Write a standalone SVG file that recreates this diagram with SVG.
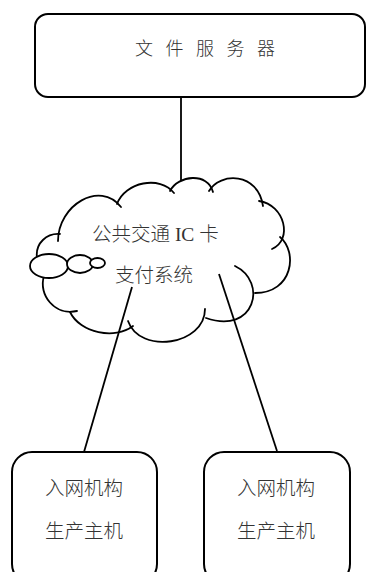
<svg xmlns="http://www.w3.org/2000/svg" width="368" height="572" viewBox="0 0 368 572">
<style>
.box{fill:#fff;stroke:#000;stroke-width:2}
.ln{fill:none;stroke:#000;stroke-width:1.8}
.cl{fill:none;stroke:#000;stroke-width:1.8;stroke-linecap:round}
.bub{fill:#fff;stroke:#000;stroke-width:1.8}
.t{font-family:"Liberation Serif","Noto Sans CJK SC",serif;font-size:19.5px;font-weight:300;fill:#333}
</style>
<rect width="368" height="572" fill="#fff"/>
<g id="connectors">
<line class="ln" x1="181" y1="97" x2="181" y2="181"/>
<line class="ln" x1="132" y1="287" x2="84" y2="452"/>
<line class="ln" x1="219" y1="274" x2="277" y2="451"/>
</g>
<g id="server">
<rect class="box" x="35" y="14" width="330" height="83" rx="13"/>
<text class="t" x="135" y="55" style="font-size:18px;letter-spacing:4px">文 件 服 务 器</text>
</g>
<g id="cloud">
<path class="cl" d="M37,258 C35,243 47,233 60,234"/>
<path class="cl" d="M58,241 C58,205 100,180 121,207"/>
<path class="cl" d="M117,204 C125,182 160,175 174,193"/>
<path class="cl" d="M170,191 C178,175 208,172 213,192"/>
<path class="cl" d="M209,191 C220,172 258,172 263,206"/>
<path class="cl" d="M259,201 C285,205 293,240 272,249"/>
<path class="cl" d="M280,237 C298,252 293,293 255,293"/>
<path class="cl" d="M235,266 C268,282 255,335 206,318"/>
<path class="cl" d="M205,309 C205,345 140,355 128,321"/>
<path class="cl" d="M133,326 C115,340 80,333 70,312"/>
<path class="cl" d="M44,276 C38,295 55,316 77,311"/>
<ellipse class="bub" cx="49" cy="266" rx="19" ry="12"/>
<ellipse class="bub" cx="80" cy="264" rx="13" ry="9"/>
<ellipse class="bub" cx="97.5" cy="263" rx="7.5" ry="5"/>
<text class="t" x="92" y="241">公共交通 IC 卡</text>
<text class="t" x="115" y="282">支付系统</text>
</g>
<g id="host1">
<rect class="box" x="12" y="452" width="145" height="132" rx="20"/>
<text class="t" x="45" y="495">入网机构</text>
<text class="t" x="45" y="538">生产主机</text>
</g>
<g id="host2">
<rect class="box" x="204" y="452" width="146" height="132" rx="20"/>
<text class="t" x="237" y="495">入网机构</text>
<text class="t" x="237" y="538">生产主机</text>
</g>
</svg>
